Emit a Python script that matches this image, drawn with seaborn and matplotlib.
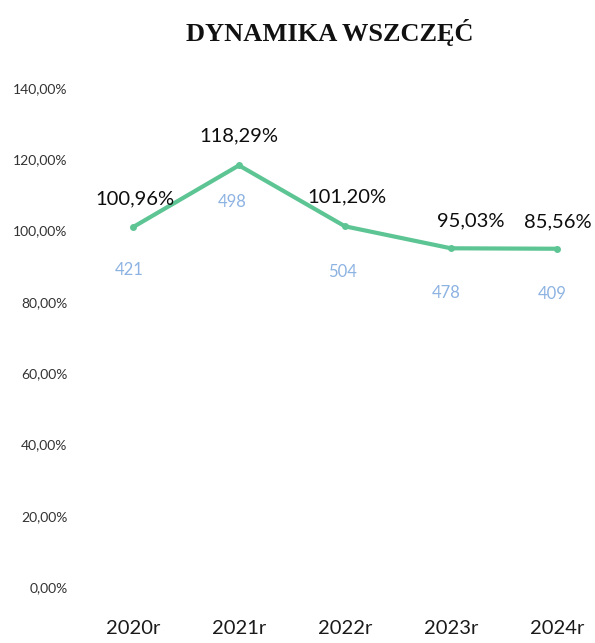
import matplotlib
matplotlib.use("Agg")
import matplotlib.pyplot as plt
import seaborn as sns
import pandas as pd

years = ["2020r", "2021r", "2022r", "2023r", "2024r"]
plotted_pct = [100.96, 118.29, 101.20, 95.03, 94.9]
pct_labels = ["100,96%", "118,29%", "101,20%", "95,03%", "85,56%"]
counts = [421, 498, 504, 478, 409]
y_ticks = [0, 20, 40, 60, 80, 100, 120, 140]

df = pd.DataFrame({"year": years, "pct": plotted_pct})

sns.set_style("white")
plt.rcParams["font.family"] = ["Lato", "DejaVu Sans"]

fig = plt.figure(figsize=(5.95, 6.43), dpi=100)
ax = fig.add_axes([80 / 595, 56 / 643, 515 / 595, 499 / 643])

sns.lineplot(data=df, x="year", y="pct", ax=ax, color="#5cc593", linewidth=3,
             marker="o", markersize=5, markeredgewidth=0, sort=False)

ax.set_xlim(-0.5, 4.36)
ax.set_ylim(0, 140)
ax.set_yticks(y_ticks)
ax.set_yticklabels([f"{t},00%" for t in y_ticks], fontsize=10, color="#333333")
ax.tick_params(axis="y", length=0, pad=9)
ax.tick_params(axis="x", length=0, pad=24, labelsize=14.5, labelcolor="#1a1a1a")
ax.set_xlabel("")
ax.set_ylabel("")
for s in ax.spines.values():
    s.set_visible(False)
ax.grid(False)

pct_offsets = [(2, 28), (0, 30), (2, 29), (20, 27), (1, 27)]
cnt_offsets = [(-4, -43), (-7, -37), (-2, -46), (-5, -45), (-5, -45)]
for i, (v, lab, c) in enumerate(zip(plotted_pct, pct_labels, counts)):
    ax.annotate(lab, (i, v), xytext=pct_offsets[i], textcoords="offset pixels",
                ha="center", va="center", fontsize=14.5, color="#0d0d0d")
    ax.annotate(str(c), (i, v), xytext=cnt_offsets[i], textcoords="offset pixels",
                ha="center", va="center", fontsize=12, color="#8db3e2")

fig.text(330 / 595, 1 - 33 / 643, "DYNAMIKA WSZCZĘĆ", ha="center", va="center",
         fontsize=19, fontweight="bold", family=["Liberation Serif", "DejaVu Serif"],
         color="#111111")

fig.savefig("out.png", dpi=100)
